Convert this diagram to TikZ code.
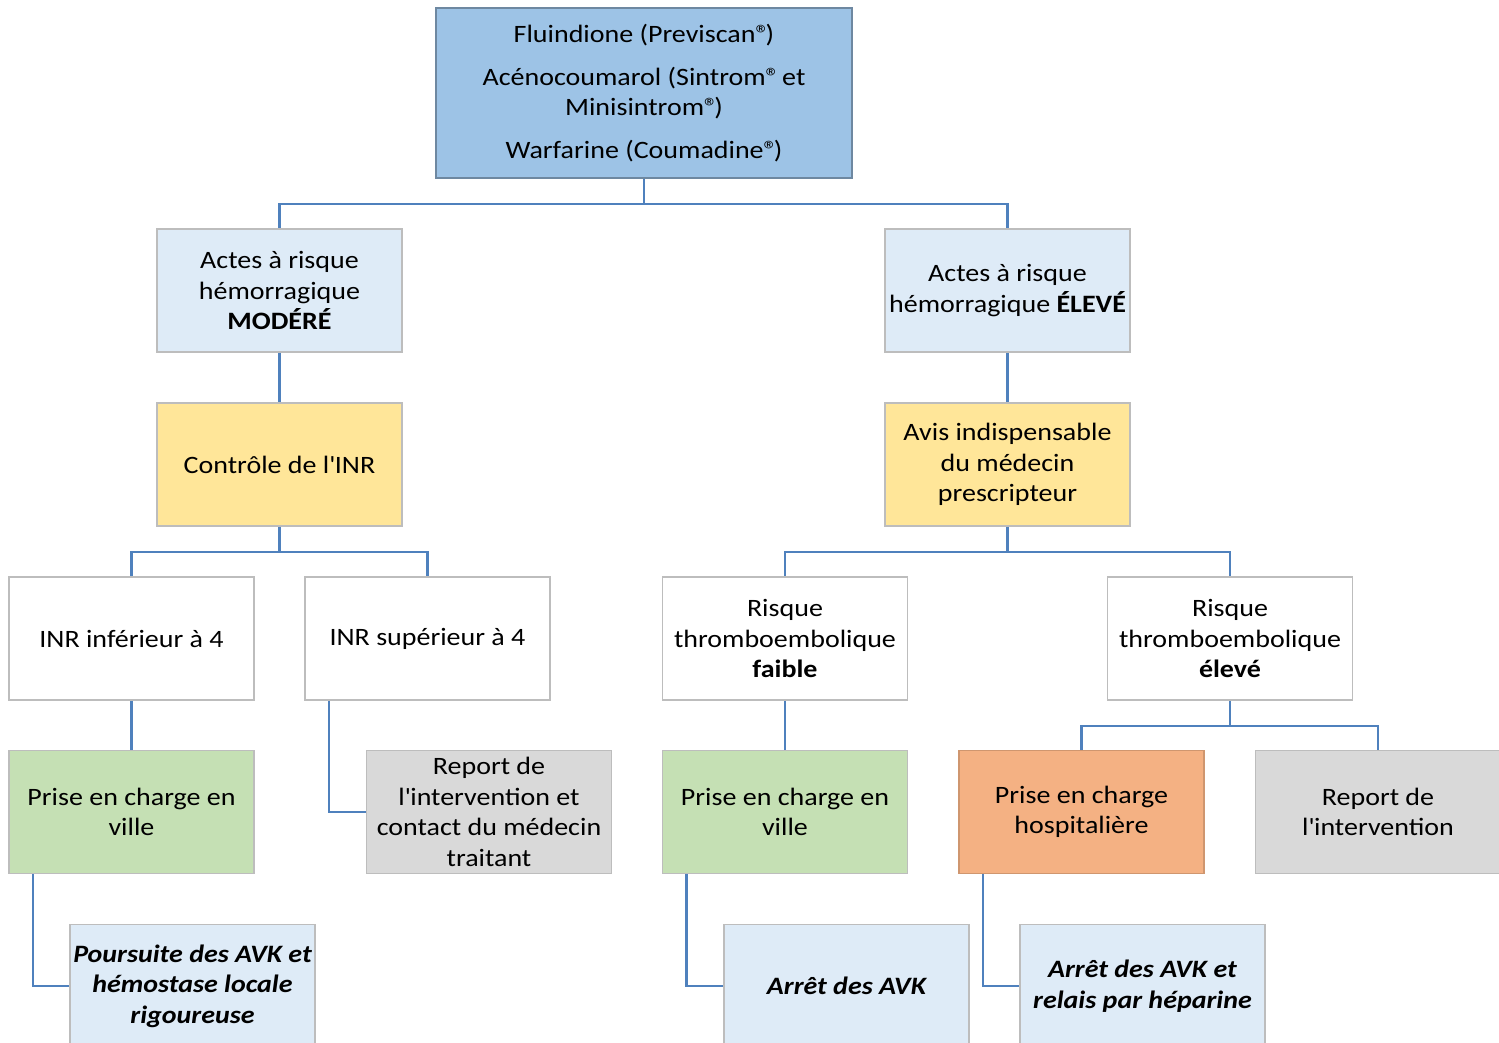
\documentclass[tikz,border=0pt]{standalone}
\usepackage{fontspec}
\setmainfont{Carlito}[FakeStretch=1.12]
\definecolor{cTop}{HTML}{9DC3E6}
\definecolor{cLight}{HTML}{DEEBF7}
\definecolor{cYellow}{HTML}{FFE699}
\definecolor{cGreen}{HTML}{C5E0B4}
\definecolor{cOrange}{HTML}{F4B183}
\definecolor{cGray}{HTML}{D9D9D9}
\definecolor{cLine}{HTML}{4F81BD}
\definecolor{cBorder}{HTML}{BDBDBD}
\newcommand{\ap}{\textquotesingle}
\newcommand{\reg}{®\kern-4pt}
\begin{document}
\begin{tikzpicture}[x=1pt,y=-1pt,
  box/.style={draw=cBorder, line width=1.8pt, minimum width=245pt, minimum height=123pt,
    inner sep=0pt, align=center, font=\fontsize{25}{30.5}\selectfont},
  conn/.style={draw=cLine, line width=2.5pt}]
\useasboundingbox (0,0) rectangle (1499,1043);
\clip (0,0) rectangle (1499,1043);
\fill[white] (0,0) rectangle (1499,1043);
% level 1
\node[box, fill=cTop, draw=black!30!cTop, minimum width=416pt, minimum height=170pt] (top) at (644,93)
 {Fluindione (Previscan\reg)\\[12pt]Acénocoumarol (Sintrom\reg{} et\\Minisintrom\reg)\\[12pt]Warfarine (Coumadine\reg)};
% level 2
\node[box, fill=cLight] (modere) at (279.5,290.5) {Actes à risque\\hémorragique\\\textbf{MODÉRÉ}};
\node[box, fill=cLight] (eleve) at (1007.5,290.5) {Actes à risque\\hémorragique \textbf{ÉLEVÉ}};
% level 3
\node[box, fill=cYellow] (inr) at (279.5,464.5) {Contrôle de l\ap INR};
\node[box, fill=cYellow] (avis) at (1007.5,464.5) {Avis indispensable\\du médecin\\prescripteur};
% level 4
\node[box, fill=white] (inrinf) at (131.5,638.5) {INR inférieur à 4};
\node[box, fill=white] (inrsup) at (427.5,638.5) {INR supérieur à 4};
\node[box, fill=white] (rfaible) at (785,638.5) {Risque\\thromboembolique\\\textbf{faible}};
\node[box, fill=white] (releve) at (1230,638.5) {Risque\\thromboembolique\\\textbf{élevé}};
% level 5
\node[box, fill=cGreen] (ville1) at (131.5,812) {Prise en charge en\\ville};
\node[box, fill=cGray] (report1) at (489,812) {Report de\\l\ap intervention et\\contact du médecin\\traitant};
\node[box, fill=cGreen] (ville2) at (785,812) {Prise en charge en\\ville};
\node[box, fill=cOrange, draw=cOrange!85!black] (hosp) at (1081.5,812) {Prise en charge\\hospitalière};
\node[box, fill=cGray] (report2) at (1378,812) {Report de\\l\ap intervention};
% level 6
\node[box, fill=cLight, font=\fontsize{25}{30.5}\selectfont\bfseries\itshape] (poursuite) at (192.5,986)
 {Poursuite des AVK et\\hémostase locale\\rigoureuse};
\node[box, fill=cLight, font=\fontsize{25}{30.5}\selectfont\bfseries\itshape] (arret) at (846.5,986)
 {Arrêt des AVK};
\node[box, fill=cLight, font=\fontsize{25}{30.5}\selectfont\bfseries\itshape] (relais) at (1142.5,986)
 {Arrêt des AVK et\\relais par héparine};
% connectors
\draw[conn] (top.south) -- ++(0,25) -| (modere.north);
\draw[conn] (top.south) -- ++(0,25) -| (eleve.north);
\draw[conn] (modere.south) -- (inr.north);
\draw[conn] (eleve.south) -- (avis.north);
\draw[conn] (inr.south) -- ++(0,25) -| (inrinf.north);
\draw[conn] (inr.south) -- ++(0,25) -| (inrsup.north);
\draw[conn] (avis.south) -- ++(0,25) -| (rfaible.north);
\draw[conn] (avis.south) -- ++(0,25) -| (releve.north);
\draw[conn] (inrinf.south) -- (ville1.north);
\draw[conn] ([xshift=25pt]inrsup.south west) |- (report1.west);
\draw[conn] (rfaible.south) -- (ville2.north);
\draw[conn] (releve.south) -- ++(0,25) -| (hosp.north);
\draw[conn] (releve.south) -- ++(0,25) -| (report2.north);
\draw[conn] ([xshift=25pt]ville1.south west) |- (poursuite.west);
\draw[conn] ([xshift=25pt]ville2.south west) |- (arret.west);
\draw[conn] ([xshift=25pt]hosp.south west) |- (relais.west);
\end{tikzpicture}
\end{document}
